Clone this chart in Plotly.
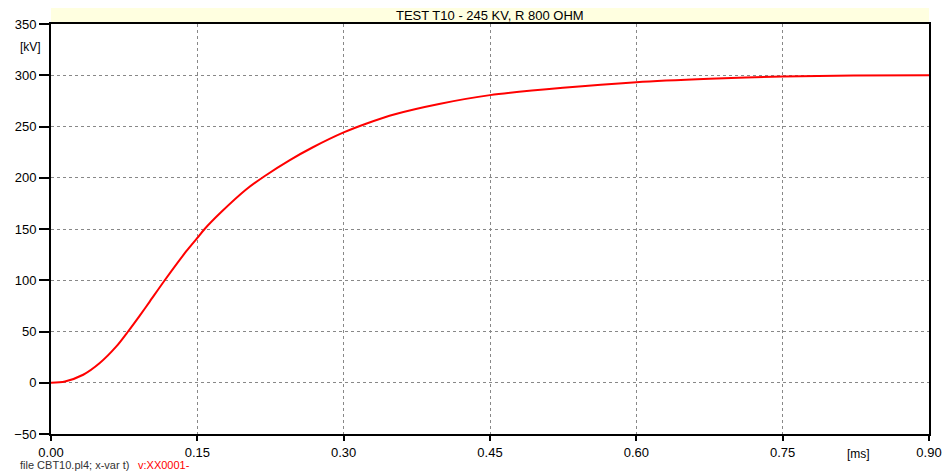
import plotly.graph_objects as go

t_ms = [0.0, 0.0143, 0.033, 0.050, 0.067, 0.079, 0.091, 0.1012, 0.1166, 0.1387, 0.15,
        0.1575, 0.1745, 0.200, 0.2188, 0.2444, 0.268, 0.300, 0.3229, 0.3535, 0.3978,
        0.45, 0.5247, 0.60, 0.675, 0.75, 0.8225, 0.90]
v_kv = [0.0, 1.3, 7.8, 19.2, 35.4, 50.0, 65.5, 79.2, 100.0, 128.3, 141.3,
        150.0, 166.5, 188.5, 201.5, 217.0, 229.5, 244.2, 252.7, 262.2, 272.0,
        280.6, 287.8, 293.2, 296.5, 298.8, 299.7, 300.0]

x_ticks = [0.0, 0.15, 0.30, 0.45, 0.60, 0.75, 0.90]
x_labels = ["0.00", "0.15", "0.30", "0.45", "0.60", "0.75", "0.90"]
y_ticks = [-50, 0, 50, 100, 150, 200, 250, 300, 350]

title = "TEST T10 - 245 KV, R 800 OHM"
y_unit = "[kV]"
x_unit = "[ms]"
footer = "file CBT10.pl4; x-var t)"
series_name = "v:XX0001-"

FONT = "Liberation Sans, Arial, sans-serif"
PW, PH = 878, 410

fig = go.Figure()
fig.add_trace(go.Scatter(x=t_ms, y=v_kv, mode="lines",
                         line=dict(color="#ff0000", width=2, shape="spline", smoothing=0.8),
                         name=series_name, showlegend=False, hoverinfo="skip"))

fig.update_layout(
    width=946, height=475,
    margin=dict(l=51, r=17, t=24, b=41, autoexpand=False),
    paper_bgcolor="white", plot_bgcolor="white",
    font=dict(family=FONT, size=13, color="#000000"),
    xaxis=dict(range=[0, 0.9], tickvals=x_ticks, ticktext=x_labels, automargin=False,
               showline=True, linecolor="black", linewidth=2, mirror=True,
               ticks="outside", ticklen=5, tickwidth=2, tickcolor="black",
               showgrid=True, gridcolor="#888888", gridwidth=1, griddash="dot",
               zeroline=False, tickfont=dict(size=13)),
    yaxis=dict(range=[-50, 350], tickvals=y_ticks, automargin=False,
               showline=True, linecolor="black", linewidth=2, mirror=True,
               ticks="outside", ticklen=10, tickwidth=2, tickcolor="black",
               showgrid=True, gridcolor="#888888", gridwidth=1, griddash="dot",
               zeroline=False, tickfont=dict(size=13)),
    shapes=[dict(type="rect", xref="paper", yref="paper", x0=0, x1=1, y0=1.0, y1=1.0 + 16/PH,
                 fillcolor="#ffffe0", line=dict(width=0), layer="below")],
    annotations=[
        dict(text=title, xref="paper", yref="paper", x=0.5, y=1.0 + 8/PH, xanchor="center", yanchor="middle",
             showarrow=False, font=dict(size=13, family=FONT, color="black")),
        dict(text=y_unit, xref="paper", yref="paper", x=-8/PW, y=(434 - 47) / PH,
             xanchor="right", yanchor="middle", showarrow=False, font=dict(size=12, family=FONT)),
        dict(text=x_unit, xref="paper", yref="paper", x=(858 - 51) / PW, y=-20/PH, xanchor="center", yanchor="middle",
             showarrow=False, font=dict(size=12, family=FONT)),
        dict(text=footer, xref="paper", yref="paper", x=(18 - 51) / PW, y=-(465 - 434)/PH, xanchor="left", yanchor="middle",
             showarrow=False, font=dict(size=11, family=FONT, color="#333333")),
        dict(text=series_name, xref="paper", yref="paper", x=(136 - 51) / PW, y=-(465 - 434)/PH, xanchor="left", yanchor="middle",
             showarrow=False, font=dict(size=11, family=FONT, color="#ff0000")),
    ],
)

fig.write_html("out.html")
